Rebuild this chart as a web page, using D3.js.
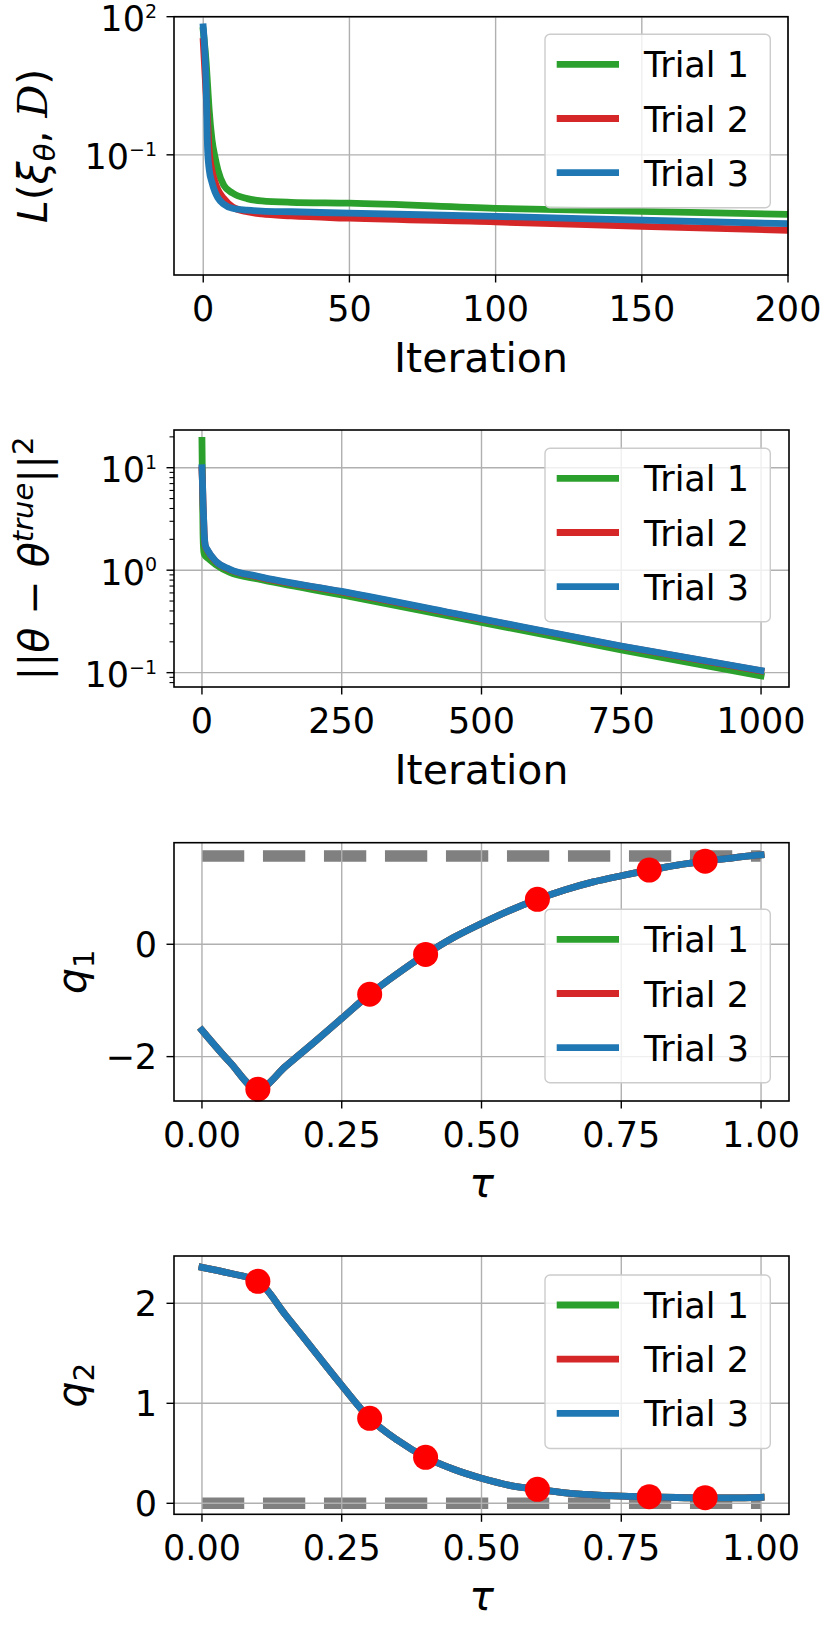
<!DOCTYPE html>
<html><head><meta charset="utf-8">
<script src="https://cdn.jsdelivr.net/npm/d3@7"></script>
<style>
body{margin:0;background:#fff}
svg{display:block}
text{font-family:"DejaVu Sans",sans-serif;fill:#000}
</style>
</head><body>
<svg id="chart" width="830" height="1629"></svg>
<script>
// ---------------- DATA ----------------
const trialNames = ["Trial 1", "Trial 2", "Trial 3"];
const trialColors = ["#2ca02c", "#d62728", "#1f77b4"];

// Panel 1: loss L(xi_theta, D) vs iteration
const lossIter   = [0, 1, 1.5, 2, 3, 4, 5, 7, 10, 15, 20, 30, 50, 100, 150, 200];
const lossTrial1 = [50, 10, 3.2, 1.0, 0.21, 0.091, 0.047, 0.022, 0.0148, 0.0112, 0.0100, 0.0093, 0.0089, 0.0069, 0.0059, 0.0051];
const lossTrial2 = [29, 2.0, 0.5, 0.13, 0.045, 0.026, 0.0175, 0.0113, 0.0074, 0.0058, 0.0052, 0.0047, 0.0042, 0.0035, 0.0028, 0.0023];
const lossTrial3 = [60, 3.2, 0.126, 0.05, 0.025, 0.0158, 0.0117, 0.0085, 0.0069, 0.0063, 0.0060, 0.0058, 0.0054, 0.0046, 0.0038, 0.0032];
const lossXTicks = [0, 50, 100, 150, 200];
const lossYTicks = [0.1, 100];

// Panel 2: parameter error vs iteration
const errIter   = [0, 1, 2, 3, 4, 6, 10, 25, 50, 100, 250, 500, 750, 1000];
const errTrial1 = [18.5, 6, 2.2, 1.6, 1.45, 1.38, 1.32, 1.13, 0.95, 0.82, 0.575, 0.31, 0.167, 0.093];
const errTrial2 = [9.5, 6.9, 4.4, 3.1, 2.25, 1.72, 1.55, 1.21, 1.01, 0.86, 0.615, 0.332, 0.181, 0.104];
const errTrial3 = [10, 7, 4.5, 3.2, 2.3, 1.75, 1.57, 1.22, 1.02, 0.87, 0.62, 0.335, 0.182, 0.105];
const errXTicks = [0, 250, 500, 750, 1000];
const errYTicks = [0.1, 1, 10];
const errMinorTicks = [0.08, 0.09, 0.2, 0.3, 0.4, 0.5, 0.6, 0.7, 0.8, 0.9, 2, 3, 4, 5, 6, 7, 8, 9, 20];

// Panels 3-4: q1, q2 vs tau (the three trials coincide)
const tau = [0, 0.05, 0.1, 0.15, 0.2, 0.25, 0.3, 0.35, 0.4, 0.45, 0.5, 0.55, 0.6, 0.65, 0.7, 0.75, 0.8, 0.85, 0.9, 0.95, 1.0];
const q1Trial = [-1.53, -2.10, -2.58, -2.17, -1.75, -1.32, -0.89, -0.52, -0.18, 0.12, 0.37, 0.60, 0.80, 0.97, 1.11, 1.22, 1.32, 1.41, 1.48, 1.54, 1.59];
const q2Trial = [2.36, 2.30, 2.22, 1.88, 1.53, 1.18, 0.85, 0.63, 0.46, 0.34, 0.25, 0.18, 0.14, 0.105, 0.085, 0.072, 0.065, 0.058, 0.055, 0.055, 0.06];
const dotTau = [0.1, 0.3, 0.4, 0.6, 0.8, 0.9];
const q1Dots = [-2.58, -0.89, -0.18, 0.80, 1.32, 1.48];
const q2Dots = [2.22, 0.85, 0.46, 0.14, 0.066, 0.056];
const refTau = [0, 1];
const q1Ref = [1.5708, 1.5708];
const q2Ref = [0, 0];
const tauTicks = [0, 0.25, 0.5, 0.75, 1.0];
const q1YTicks = [-2, 0];
const q2YTicks = [0, 1, 2];

// ---------------- DRAWING ----------------
const svg = d3.select("#chart");
const FONT_TICK = 35, FONT_LABEL = 41, FONT_LEG = 35;
const GRID = "#b0b0b0";
const minus = s => String(s).replace("-", "\u2212");

let clipId = 0;
function panel(cfg) {
  const x = d3.scaleLinear().domain(cfg.xDomain).range([cfg.left, cfg.right]);
  const y = (cfg.log ? d3.scaleLog() : d3.scaleLinear()).domain(cfg.yDomain).range([cfg.bottom, cfg.top]);
  const g = svg.append("g");
  const id = "clip" + (clipId++);
  g.append("clipPath").attr("id", id).append("rect")
    .attr("x", cfg.left).attr("y", cfg.top).attr("width", cfg.right - cfg.left).attr("height", cfg.bottom - cfg.top);

  // reference dashed line (under grid)
  if (cfg.ref) {
    g.append("path").attr("clip-path", `url(#${id})`)
      .attr("d", d3.line().x(d => x(d[0])).y(d => y(d[1]))(cfg.ref.x.map((v, i) => [v, cfg.ref.y[i]])))
      .attr("fill", "none").attr("stroke", "#808080").attr("stroke-width", 11.5)
      .attr("stroke-dasharray", "42.3,18.7").attr("stroke-linecap", "butt");
  }
  // grid
  g.selectAll(".gx").data(cfg.xTicks).join("line")
    .attr("x1", d => x(d)).attr("x2", d => x(d)).attr("y1", cfg.top).attr("y2", cfg.bottom)
    .attr("stroke", GRID).attr("stroke-width", 1.4);
  g.selectAll(".gy").data(cfg.yTicks).join("line")
    .attr("y1", d => y(d)).attr("y2", d => y(d)).attr("x1", cfg.left).attr("x2", cfg.right)
    .attr("stroke", GRID).attr("stroke-width", 1.4);

  // series
  const line = d3.line().curve(d3.curveMonotoneX).x(d => x(d[0])).y(d => y(d[1]));
  cfg.series.forEach((s, i) => {
    g.append("path").attr("clip-path", `url(#${id})`)
      .attr("d", line(cfg.xs.map((v, j) => [v, s[j]])))
      .attr("fill", "none").attr("stroke", trialColors[i]).attr("stroke-width", 6.8)
      .attr("stroke-linejoin", "round").attr("stroke-linecap", "square");
  });
  // dots
  if (cfg.dots) {
    g.selectAll(".dot").data(cfg.dots.x.map((v, i) => [v, cfg.dots.y[i]])).join("circle")
      .attr("cx", d => x(d[0])).attr("cy", d => y(d[1])).attr("r", 12.5).attr("fill", "#ff0000");
  }

  // spines
  g.append("rect").attr("x", cfg.left).attr("y", cfg.top)
    .attr("width", cfg.right - cfg.left).attr("height", cfg.bottom - cfg.top)
    .attr("fill", "none").attr("stroke", "#000").attr("stroke-width", 1.6);

  // x ticks
  g.selectAll(".tx").data(cfg.xTicks).join("line")
    .attr("x1", d => x(d)).attr("x2", d => x(d)).attr("y1", cfg.bottom).attr("y2", cfg.bottom + 7.5)
    .attr("stroke", "#000").attr("stroke-width", 1.4);
  g.selectAll(".txl").data(cfg.xTicks).join("text")
    .attr("x", d => x(d)).attr("y", cfg.bottom + 45.5).attr("text-anchor", "middle")
    .attr("font-size", FONT_TICK).text(cfg.xFmt);

  // y ticks
  g.selectAll(".ty").data(cfg.yTicks).join("line")
    .attr("y1", d => y(d)).attr("y2", d => y(d)).attr("x1", cfg.left - 7.5).attr("x2", cfg.left)
    .attr("stroke", "#000").attr("stroke-width", 1.4);
  if (cfg.minor) {
    g.selectAll(".tym").data(cfg.minor).join("line")
      .attr("y1", d => y(d)).attr("y2", d => y(d)).attr("x1", cfg.left - 4.5).attr("x2", cfg.left)
      .attr("stroke", "#000").attr("stroke-width", 1.1);
  }
  if (cfg.log) {
    cfg.yTicks.forEach(v => {
      const e = Math.round(Math.log10(v));
      const t = g.append("text").attr("x", 157).attr("y", y(v) + 14.5).attr("text-anchor", "end").attr("font-size", FONT_TICK);
      t.append("tspan").text("10");
      t.append("tspan").attr("font-size", 19).attr("dy", -13.4).text(minus(e));
    });
  } else {
    g.selectAll(".tyl").data(cfg.yTicks).join("text")
      .attr("x", 157).attr("y", d => y(d) + 12.5).attr("text-anchor", "end")
      .attr("font-size", FONT_TICK).text(d => minus(d));
  }

  // x label
  const xl = g.append("text").attr("x", (cfg.left + cfg.right) / 2).attr("y", cfg.xLabelY)
    .attr("text-anchor", "middle").attr("font-size", FONT_LABEL);
  cfg.xLabel(xl);
  // y label
  const yl = g.append("text").attr("transform", `translate(${cfg.yLabelX},${(cfg.top + cfg.bottom) / 2}) rotate(-90)`)
    .attr("text-anchor", "middle").attr("font-size", FONT_LABEL);
  cfg.yLabel(yl);

  // legend
  const lt = cfg.legendTop, lx = 545;
  const lg = g.append("g");
  lg.append("rect").attr("x", lx).attr("y", lt).attr("width", 225.3).attr("height", 173.5)
    .attr("rx", 5).attr("fill", "#fff").attr("fill-opacity", 0.8).attr("stroke", "#cccccc").attr("stroke-width", 1.4);
  trialNames.forEach((n, i) => {
    const cy = lt + 30 + i * 54.2;
    lg.append("line").attr("x1", 556.7).attr("x2", 619).attr("y1", cy).attr("y2", cy)
      .attr("stroke", trialColors[i]).attr("stroke-width", 6.8);
    lg.append("text").attr("x", 644).attr("y", cy + 13).attr("font-size", FONT_LEG).text(n);
  });
}

const italic = (t, s) => t.append("tspan").attr("font-style", "italic").text(s);

panel({
  left: 174, right: 788, top: 16.7, bottom: 275, log: true,
  xDomain: [-10, 200], yDomain: [Math.pow(10, -3.61), 100],
  xs: lossIter, series: [lossTrial1, lossTrial2, lossTrial3],
  xTicks: lossXTicks, yTicks: lossYTicks, xFmt: d => d,
  xLabelY: 371.5, xLabel: t => t.text("Iteration"),
  yLabelX: 47,
  yLabel: t => {
    italic(t, "L");
    t.append("tspan").text("(");
    italic(t, "\u03BE");
    t.append("tspan").attr("font-style", "italic").attr("font-size", 29).attr("dy", 8).text("\u03B8");
    t.append("tspan").attr("dy", -8).text(", ");
    t.append("tspan").attr("font-family", "DejaVu Serif").attr("font-style", "italic").text("D");
    t.append("tspan").text(")");
  },
  legendTop: 34.3
});

panel({
  left: 174, right: 789, top: 430, bottom: 687, log: true,
  xDomain: [-50, 1050], yDomain: [Math.pow(10, -1.14), Math.pow(10, 1.368)],
  xs: errIter, series: [errTrial1, errTrial2, errTrial3],
  xTicks: errXTicks, yTicks: errYTicks, minor: errMinorTicks, xFmt: d => d,
  xLabelY: 784, xLabel: t => t.text("Iteration"),
  yLabelX: 48,
  yLabel: t => {
    t.append("tspan").text("||");
    italic(t, "\u03B8");
    t.append("tspan").text(" \u2212 ");
    italic(t, "\u03B8");
    t.append("tspan").attr("font-style", "italic").attr("font-size", 29).attr("dy", -15).text("true");
    t.append("tspan").attr("dy", 15).text("||");
    t.append("tspan").attr("font-size", 29).attr("dy", -15).text("2");
  },
  legendTop: 448.3
});

panel({
  left: 174, right: 789, top: 842.7, bottom: 1101,
  xDomain: [-0.05, 1.05], yDomain: [-2.79, 1.808],
  xs: tau, series: [q1Trial, q1Trial, q1Trial],
  dots: { x: dotTau, y: q1Dots }, ref: { x: refTau, y: q1Ref },
  xTicks: tauTicks, yTicks: q1YTicks, xFmt: d => d3.format(".2f")(d),
  xLabelY: 1196.5, xLabel: t => italic(t, "\u03C4"),
  yLabelX: 86,
  yLabel: t => {
    italic(t, "q");
    t.append("tspan").attr("font-size", 29).attr("dy", 8).text("1");
  },
  legendTop: 909.3
});

panel({
  left: 174, right: 789, top: 1256, bottom: 1514.3,
  xDomain: [-0.05, 1.05], yDomain: [-0.11, 2.473],
  xs: tau, series: [q2Trial, q2Trial, q2Trial],
  dots: { x: dotTau, y: q2Dots }, ref: { x: refTau, y: q2Ref },
  xTicks: tauTicks, yTicks: q2YTicks, xFmt: d => d3.format(".2f")(d),
  xLabelY: 1610, xLabel: t => italic(t, "\u03C4"),
  yLabelX: 86,
  yLabel: t => {
    italic(t, "q");
    t.append("tspan").attr("font-size", 29).attr("dy", 8).text("2");
  },
  legendTop: 1275
});
</script>
</body></html>
